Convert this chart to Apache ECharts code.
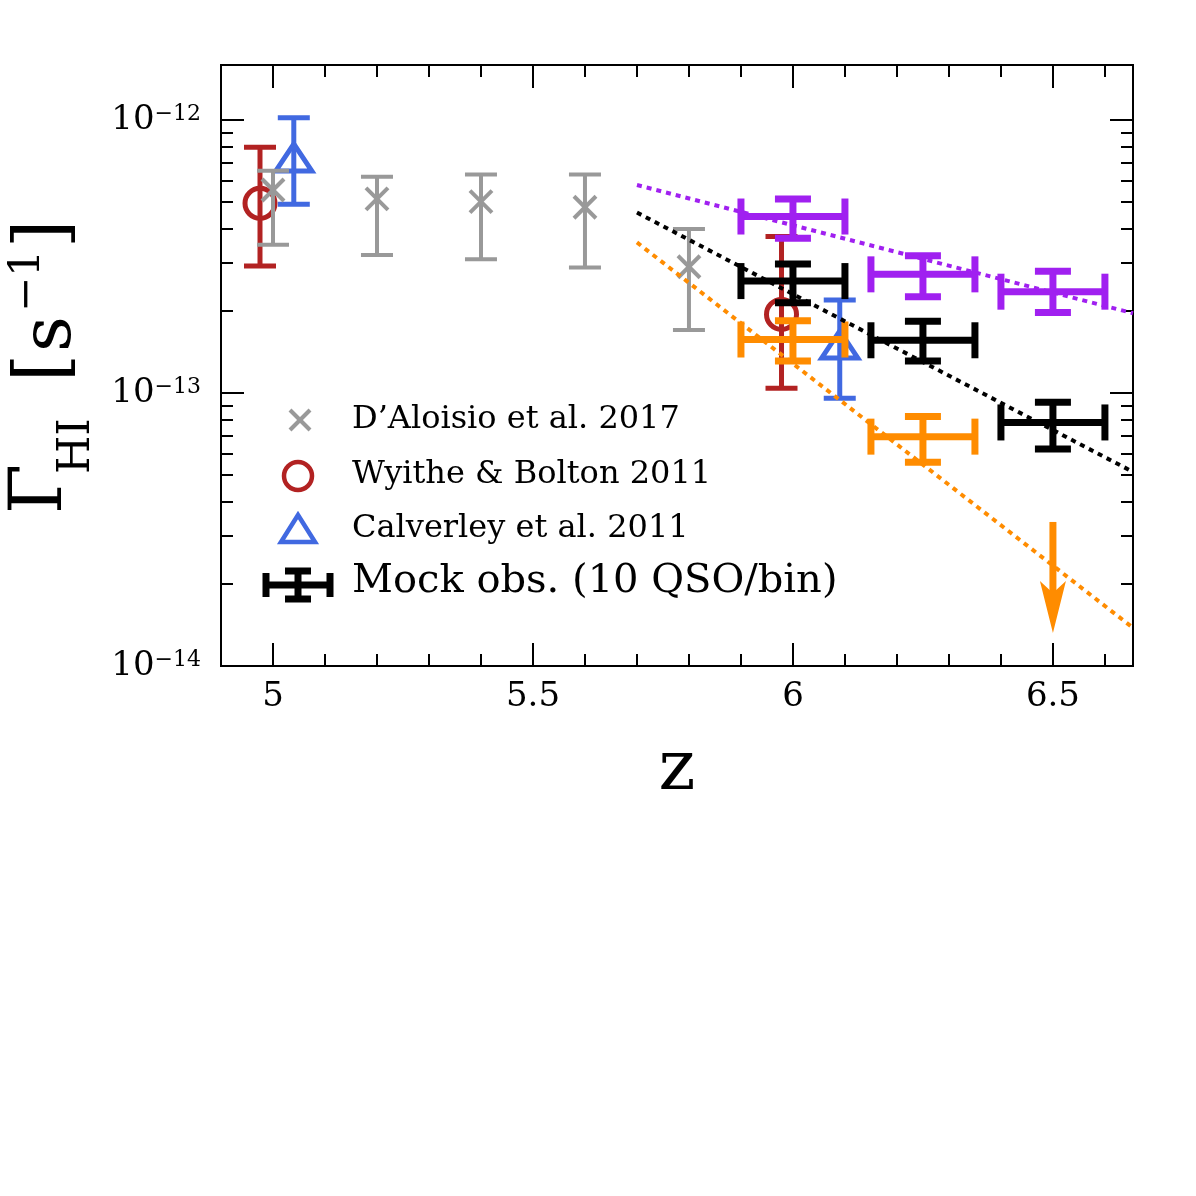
<!DOCTYPE html>
<html>
<head>
<meta charset="utf-8">
<script src="https://cdn.jsdelivr.net/npm/echarts@6/dist/echarts.min.js"></script>
<style>
  html, body { margin: 0; padding: 0; background: #fff; }
  #chart { width: 1196px; height: 1196px; }
</style>
</head>
<body>
<div id="chart"></div>
<script>
// axis ticks
const xMajor = [5, 5.5, 6, 6.5];
const xMinor = [5.1, 5.2, 5.3, 5.4, 5.6, 5.7, 5.8, 5.9, 6.1, 6.2, 6.3, 6.4, 6.6];
const yMajor = [1e-14, 1e-13, 1e-12];
const yMinor = [2e-14, 3e-14, 4e-14, 5e-14, 6e-14, 7e-14, 8e-14, 9e-14,
  2e-13, 3e-13, 4e-13, 5e-13, 6e-13, 7e-13, 8e-13, 9e-13];

// D'Aloisio et al. 2017
const dalZ = [5.0, 5.2, 5.4, 5.6, 5.8];
const dalG = [5.54e-13, 5.14e-13, 5.02e-13, 4.79e-13, 2.90e-13];
const dalLo = [3.49e-13, 3.20e-13, 3.09e-13, 2.88e-13, 1.70e-13];
const dalHi = [6.52e-13, 6.20e-13, 6.31e-13, 6.31e-13, 3.99e-13];

// Wyithe & Bolton 2011
const wbZ = [4.975, 5.978];
const wbG = [4.95e-13, 1.94e-13];
const wbLo = [2.92e-13, 1.04e-13];
const wbHi = [7.94e-13, 3.74e-13];

// Calverley et al. 2011
const calZ = [5.04, 6.09];
const calG = [7.26e-13, 1.50e-13];
const calLo = [4.91e-13, 0.957e-13];
const calHi = [1.02e-12, 2.19e-13];

// mock observations (10 QSO/bin)
const mockZ = [6.0, 6.25, 6.5];
const mockDz = [0.1, 0.1, 0.1];
const purpleG = [4.43e-13, 2.72e-13, 2.35e-13];
const purpleLo = [3.69e-13, 2.25e-13, 1.97e-13];
const purpleHi = [5.13e-13, 3.18e-13, 2.79e-13];
const blackG = [2.57e-13, 1.56e-13, 7.80e-14];
const blackLo = [2.14e-13, 1.31e-13, 6.23e-14];
const blackHi = [2.97e-13, 1.83e-13, 9.25e-14];
const orangeZ = [6.0, 6.25];
const orangeG = [1.57e-13, 6.92e-14];
const orangeLo = [1.31e-13, 5.58e-14];
const orangeHi = [1.84e-13, 8.20e-14];
// upper limit (arrow)
const limZ = [6.5];
const limTop = [3.37e-14];
const limTip = [1.32e-14];

// model lines
const fitZ = [5.7, 6.654];
const fitPurple = [5.78e-13, 1.96e-13];
const fitBlack = [4.58e-13, 5.14e-14];
const fitOrange = [3.56e-13, 1.38e-14];

const FONT = 'DejaVu Serif';
const GRAY = '#999999';
const RED = '#b22222';
const BLUE = '#4169e1';
const PURPLE = '#a020f0';
const ORANGE = '#ff8c00';

function line(x1, y1, x2, y2, color, lw) {
  return { type: 'line', shape: { x1, y1, x2, y2 }, style: { stroke: color, lineWidth: lw } };
}

// vertical (and optionally horizontal) error bar + marker
function errBar(color, lw, cap, marker) {
  return function (params, api) {
    const z = api.value(0);
    const g = api.value(1);
    const c = api.coord([z, g]);
    const top = api.coord([z, api.value(3)])[1];
    const bot = api.coord([z, api.value(2)])[1];
    const kids = [
      line(c[0], top, c[0], bot, color, lw),
      line(c[0] - cap, top, c[0] + cap, top, color, lw),
      line(c[0] - cap, bot, c[0] + cap, bot, color, lw)
    ];
    const dz = api.value(4);
    if (dz > 0) {
      const l = api.coord([z - dz, g])[0];
      const r = api.coord([z + dz, g])[0];
      kids.push(line(l, c[1], r, c[1], color, lw));
      kids.push(line(l, c[1] - cap, l, c[1] + cap, color, lw));
      kids.push(line(r, c[1] - cap, r, c[1] + cap, color, lw));
    }
    if (marker === 'cross') {
      kids.push(line(c[0] - 11, c[1] - 11, c[0] + 11, c[1] + 11, color, 4));
      kids.push(line(c[0] - 11, c[1] + 11, c[0] + 11, c[1] - 11, color, 4));
    } else if (marker === 'circle') {
      kids.push({ type: 'circle', shape: { cx: c[0], cy: c[1], r: 15 }, style: { stroke: color, lineWidth: 5, fill: null } });
    } else if (marker === 'triangle') {
      kids.push({ type: 'polygon', shape: { points: [[c[0], c[1] - 14], [c[0] + 18, c[1] + 13], [c[0] - 18, c[1] + 13]] },
        style: { stroke: color, lineWidth: 5, fill: null, lineJoin: 'miter' } });
    }
    return { type: 'group', children: kids };
  };
}

function arrowItem(params, api) {
  const z = api.value(0);
  const t = api.coord([z, api.value(1)]);
  const b = api.coord([z, api.value(2)]);
  return {
    type: 'group',
    children: [
      line(t[0], t[1], t[0], b[1] - 30, ORANGE, 7),
      { type: 'polygon', shape: { points: [[t[0] - 13, b[1] - 52], [t[0], b[1] - 40], [t[0] + 13, b[1] - 52], [t[0], b[1]]] },
        style: { fill: ORANGE } }
    ]
  };
}

function zip(z, g, lo, hi, dz) {
  return z.map((v, i) => dz ? [v, g[i], lo[i], hi[i], dz[i]] : [v, g[i], lo[i], hi[i], 0]);
}

function fitSeries(z, g, color) {
  return {
    type: 'line', xAxisIndex: 0, yAxisIndex: 0, showSymbol: false, silent: true, z: 5,
    data: z.map((v, i) => [v, g[i]]),
    lineStyle: { color: color, width: 4, type: [5, 5] }
  };
}

const chart = echarts.init(document.getElementById('chart'));

const baseX = {
  type: 'value', min: 4.9, max: 6.654, gridIndex: 0,
  axisLine: { show: true, onZero: false, lineStyle: { color: '#000', width: 2 } },
  splitLine: { show: false }
};
const baseY = {
  type: 'log', logBase: 10, min: 1e-14, max: 1.59e-12, gridIndex: 0,
  axisLine: { show: true, onZero: false, lineStyle: { color: '#000', width: 2 } },
  splitLine: { show: false }
};
function tickAxis(base, pos, values, len, labels) {
  return Object.assign({}, base, {
    position: pos,
    axisTick: { show: true, inside: true, length: len, customValues: values, lineStyle: { color: '#000', width: 2 } },
    axisLabel: labels || { show: false }
  });
}

const xLabel = {
  show: true, customValues: xMajor, margin: 14, color: '#000',
  fontFamily: FONT, fontSize: 34, formatter: v => String(v)
};
const yLabel = {
  show: true, customValues: yMajor, margin: 20, color: '#000',
  formatter: v => '{b|10}{s|\u2212' + (-Math.round(Math.log10(v))) + '}',
  rich: {
    b: { fontFamily: FONT, fontSize: 34, color: '#000', verticalAlign: 'top', lineHeight: 34 },
    s: { fontFamily: FONT, fontSize: 22, color: '#000', verticalAlign: 'top', lineHeight: 34 }
  }
};

const option = {
  animation: false,
  backgroundColor: '#fff',
  grid: { left: 221, top: 65, width: 912, height: 601, containLabel: false },
  xAxis: [
    Object.assign(tickAxis(baseX, 'bottom', xMajor, 23, xLabel), {
      name: 'z', nameLocation: 'middle', nameGap: 105,
      nameTextStyle: { fontFamily: FONT, fontSize: 70, color: '#000', verticalAlign: 'middle' }
    }),
    tickAxis(baseX, 'bottom', xMinor, 12),
    tickAxis(baseX, 'top', xMajor, 23),
    tickAxis(baseX, 'top', xMinor, 12)
  ],
  yAxis: [
    tickAxis(baseY, 'left', yMajor, 23, yLabel),
    tickAxis(baseY, 'left', yMinor, 12),
    tickAxis(baseY, 'right', yMajor, 23),
    tickAxis(baseY, 'right', yMinor, 12)
  ],
  series: [
    { type: 'custom', name: 'Wyithe & Bolton 2011', renderItem: errBar(RED, 5, 16, 'circle'),
      data: zip(wbZ, wbG, wbLo, wbHi), encode: { x: 0, y: [1, 2, 3] }, z: 2 },
    { type: 'custom', name: 'Calverley et al. 2011', renderItem: errBar(BLUE, 5, 16, 'triangle'),
      data: zip(calZ, calG, calLo, calHi), encode: { x: 0, y: [1, 2, 3] }, z: 2 },
    { type: 'custom', name: "D\u2019Aloisio et al. 2017", renderItem: errBar(GRAY, 4, 16, 'cross'),
      data: zip(dalZ, dalG, dalLo, dalHi), encode: { x: 0, y: [1, 2, 3] }, z: 3 },
    { type: 'custom', name: 'mock purple', renderItem: errBar(PURPLE, 7, 18, null),
      data: zip(mockZ, purpleG, purpleLo, purpleHi, mockDz), encode: { x: 0, y: [1, 2, 3] }, z: 4 },
    { type: 'custom', name: 'mock black', renderItem: errBar('#000', 7, 18, null),
      data: zip(mockZ, blackG, blackLo, blackHi, mockDz), encode: { x: 0, y: [1, 2, 3] }, z: 4 },
    { type: 'custom', name: 'mock orange', renderItem: errBar(ORANGE, 7, 18, null),
      data: zip(orangeZ, orangeG, orangeLo, orangeHi, mockDz), encode: { x: 0, y: [1, 2, 3] }, z: 4 },
    { type: 'custom', name: 'mock orange limit', renderItem: arrowItem,
      data: limZ.map((v, i) => [v, limTop[i], limTip[i]]), encode: { x: 0, y: [1, 2] }, z: 4 },
    fitSeries(fitZ, fitPurple, PURPLE),
    fitSeries(fitZ, fitBlack, '#000'),
    fitSeries(fitZ, fitOrange, ORANGE)
  ],
  graphic: [
    // y axis title, rotated
    { type: 'text', x: 42, y: 514, rotation: Math.PI / 2,
      style: { text: '\u0393', fontFamily: FONT, fontSize: 72, fill: '#000', align: 'left', verticalAlign: 'middle' } },
    { type: 'text', x: 78, y: 474, rotation: Math.PI / 2,
      style: { text: 'HI', fontFamily: FONT, fontSize: 44, fill: '#000', align: 'left', verticalAlign: 'middle' } },
    { type: 'text', x: 46, y: 382, rotation: Math.PI / 2,
      style: { text: '[', fontFamily: FONT, fontSize: 72, fill: '#000', align: 'left', verticalAlign: 'middle' } },
    { type: 'text', x: 52, y: 352, rotation: Math.PI / 2,
      style: { text: 's', fontFamily: FONT, fontSize: 70, fill: '#000', align: 'left', verticalAlign: 'middle' } },
    { type: 'text', x: 28, y: 312, rotation: Math.PI / 2,
      style: { text: '\u22121', fontFamily: FONT, fontSize: 42, fill: '#000', align: 'left', verticalAlign: 'middle' } },
    { type: 'text', x: 46, y: 248, rotation: Math.PI / 2,
      style: { text: ']', fontFamily: FONT, fontSize: 72, fill: '#000', align: 'left', verticalAlign: 'middle' } },

    // legend
    { type: 'group', x: 300, y: 420, children: [
      { type: 'line', shape: { x1: -10, y1: -10, x2: 10, y2: 10 }, style: { stroke: GRAY, lineWidth: 4 } },
      { type: 'line', shape: { x1: -10, y1: 10, x2: 10, y2: -10 }, style: { stroke: GRAY, lineWidth: 4 } }
    ] },
    { type: 'text', x: 352, y: 420, style: { text: "D\u2019Aloisio et al. 2017", fontFamily: FONT, fontSize: 32, fill: '#000', verticalAlign: 'middle' } },
    { type: 'circle', shape: { cx: 298, cy: 476, r: 14 }, style: { stroke: RED, lineWidth: 4.5, fill: null } },
    { type: 'text', x: 352, y: 475, style: { text: 'Wyithe & Bolton 2011', fontFamily: FONT, fontSize: 32, fill: '#000', verticalAlign: 'middle' } },
    { type: 'polygon', shape: { points: [[298, 515], [315, 542], [281, 542]] }, style: { stroke: BLUE, lineWidth: 4.5, fill: null } },
    { type: 'text', x: 352, y: 529, style: { text: 'Calverley et al. 2011', fontFamily: FONT, fontSize: 32, fill: '#000', verticalAlign: 'middle' } },
    { type: 'group', x: 298, y: 585, children: [
      { type: 'line', shape: { x1: -33, y1: 0, x2: 33, y2: 0 }, style: { stroke: '#000', lineWidth: 7 } },
      { type: 'line', shape: { x1: -32, y1: -12, x2: -32, y2: 12 }, style: { stroke: '#000', lineWidth: 7 } },
      { type: 'line', shape: { x1: 32, y1: -12, x2: 32, y2: 12 }, style: { stroke: '#000', lineWidth: 7 } },
      { type: 'line', shape: { x1: 0, y1: -14, x2: 0, y2: 14 }, style: { stroke: '#000', lineWidth: 7 } },
      { type: 'line', shape: { x1: -13, y1: -14, x2: 13, y2: -14 }, style: { stroke: '#000', lineWidth: 7 } },
      { type: 'line', shape: { x1: -13, y1: 14, x2: 13, y2: 14 }, style: { stroke: '#000', lineWidth: 7 } }
    ] },
    { type: 'text', x: 352, y: 582, style: { text: 'Mock obs. (10 QSO/bin)', fontFamily: FONT, fontSize: 40, fill: '#000', verticalAlign: 'middle' } }
  ]
};

chart.setOption(option);
</script>
</body>
</html>
